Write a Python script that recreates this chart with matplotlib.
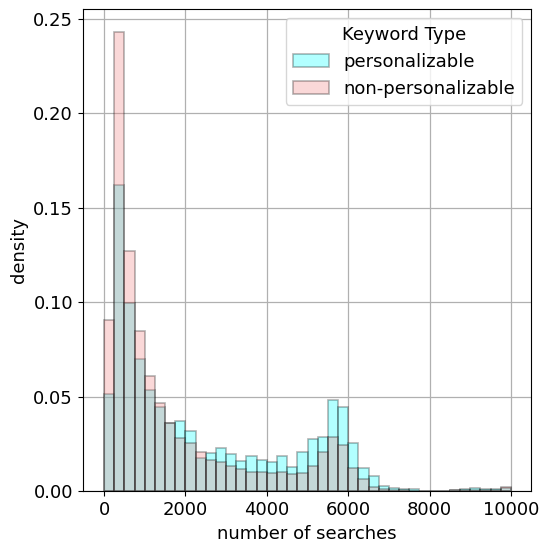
import numpy as np
import matplotlib.pyplot as plt

# bin edges: 40 bins of 250 searches from 0 to 10000
edges = np.arange(0, 10001, 250)

# density per bin, personalizable keywords
dens_pers = [0.0514, 0.1621, 0.0996, 0.0702, 0.0537, 0.0449, 0.0364, 0.0370,
             0.0317, 0.0176, 0.0202, 0.0232, 0.0197, 0.0162, 0.0188, 0.0164,
             0.0153, 0.0188, 0.0130, 0.0206, 0.0276, 0.0287, 0.0486, 0.0447,
             0.0255, 0.0123, 0.0083, 0.0028, 0.0016, 0.0011, 0.0011, 0.0002,
             0.0003, 0.0003, 0.0007, 0.0012, 0.0016, 0.0014, 0.0012, 0.0016]

# density per bin, non-personalizable keywords
dens_nonpers = [0.0907, 0.2428, 0.1269, 0.0850, 0.0611, 0.0470, 0.0364, 0.0282,
                0.0255, 0.0206, 0.0167, 0.0158, 0.0136, 0.0118, 0.0102, 0.0102,
                0.0097, 0.0100, 0.0093, 0.0099, 0.0132, 0.0211, 0.0290, 0.0246,
                0.0125, 0.0065, 0.0023, 0.0012, 0.0007, 0.0005, 0.0003, 0.0001,
                0.0002, 0.0002, 0.0007, 0.0009, 0.0010, 0.0010, 0.0010, 0.0023]

labels = ['personalizable', 'non-personalizable']
colors = ['cyan', 'lightcoral']

plt.rcParams['font.size'] = 13
fig, ax = plt.subplots(figsize=(5.45, 5.46), dpi=100)
ax.set_axisbelow(True)
ax.grid(True, color='#b0b0b0', linewidth=0.9)

for dens, lab, col in zip([dens_pers, dens_nonpers], labels, colors):
    ax.bar(edges[:-1], dens, width=250, align='edge', color=col, alpha=0.3,
           edgecolor=(0, 0, 0, 0.3), linewidth=1.2, label=lab)

ax.set_xlim(-520, 10500)
ax.set_ylim(0, 0.255)
ax.set_xticks([0, 2000, 4000, 6000, 8000, 10000])
ax.set_xlabel('number of searches')
ax.set_ylabel('density')
ax.legend(title='Keyword Type', loc='upper right', title_fontsize=13)

plt.subplots_adjust(left=0.152, right=0.975, top=0.983, bottom=0.1)
plt.savefig('out.png')
